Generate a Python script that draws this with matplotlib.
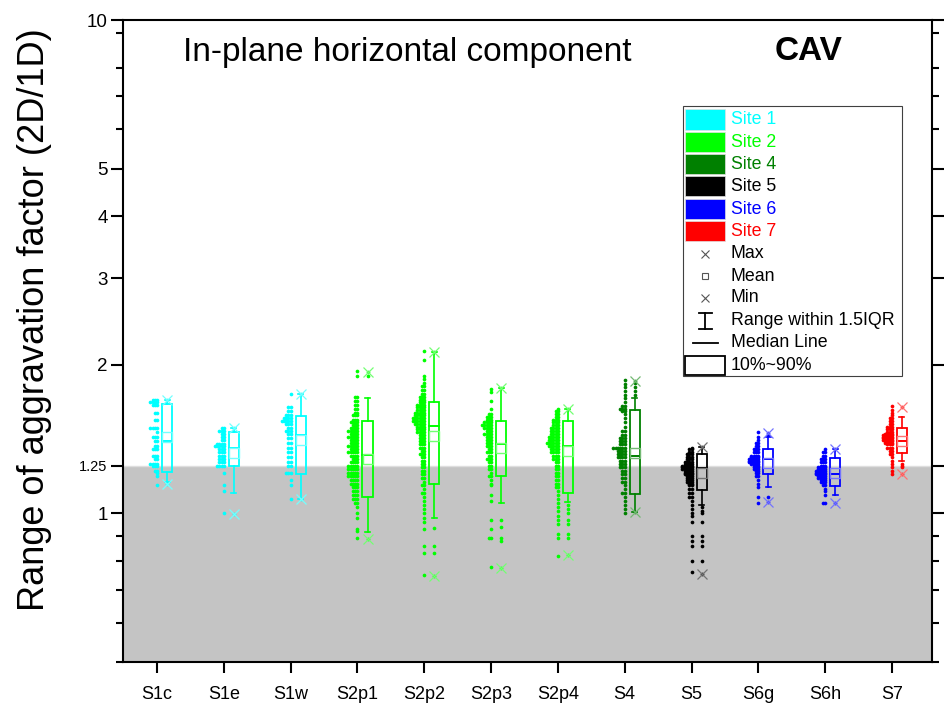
import matplotlib
matplotlib.use('Agg')
import matplotlib.pyplot as plt
from matplotlib.patches import Rectangle
from matplotlib.lines import Line2D
from matplotlib.ticker import FixedLocator, NullFormatter

plt.rcParams['font.family'] = ['Liberation Sans', 'DejaVu Sans']

# ---------------- data ----------------
categories = ['S1c', 'S1e', 'S1w', 'S2p1', 'S2p2', 'S2p3', 'S2p4', 'S4', 'S5', 'S6g', 'S6h', 'S7']
cat_site = [0, 0, 0, 1, 1, 1, 1, 2, 3, 4, 4, 5]
sites = ['Site 1', 'Site 2', 'Site 4', 'Site 5', 'Site 6', 'Site 7']
site_colors = ['#00FFFF', '#00FF00', '#008000', '#000000', '#0000FF', '#FF0000']

p90 = [1.665, 1.464, 1.577, 1.536, 1.686, 1.536, 1.540, 1.620, 1.320, 1.352, 1.295, 1.487]
p10 = [1.216, 1.247, 1.204, 1.080, 1.149, 1.191, 1.100, 1.097, 1.118, 1.200, 1.136, 1.327]
median = [1.404, 1.356, 1.444, 1.314, 1.505, 1.383, 1.372, 1.310, 1.236, 1.290, 1.204, 1.403]
mean = [1.427, 1.327, 1.411, 1.290, 1.433, 1.358, 1.341, 1.327, 1.210, 1.265, 1.210, 1.404]
whisk_hi = [1.698, 1.489, 1.750, 1.717, 2.120, 1.799, 1.627, 1.717, 1.362, 1.426, 1.352, 1.570]
whisk_lo = [1.160, 1.102, 1.069, 0.919, 0.977, 1.052, 1.055, 1.005, 1.040, 1.131, 1.092, 1.276]
max_val = [1.698, 1.489, 1.750, 1.936, 2.120, 1.799, 1.627, 1.855, 1.362, 1.455, 1.352, 1.640]
min_val = [1.145, 0.997, 1.069, 0.888, 0.746, 0.777, 0.824, 1.005, 0.754, 1.055, 1.052, 1.200]

out_S1c = [1.698, 1.145]
out_S1e = [1.489, 0.997]
out_S1w = [1.750, 1.069]
out_S2p1 = [1.936, 1.898, 0.888]
out_S2p2 = [2.120, 0.936, 0.860, 0.830, 0.746]
out_S2p3 = [1.799, 0.970, 0.937, 0.890, 0.880, 0.777]
out_S2p4 = [1.627, 1.040, 1.020, 1.000, 0.970, 0.950, 0.910, 0.890, 0.824]
out_S4 = [1.855, 1.840, 1.800, 1.770, 1.740, 1.005]
out_S5 = [1.362, 1.030, 1.010, 1.000, 0.960, 0.900, 0.880, 0.860, 0.800, 0.754]
out_S6g = [1.455, 1.440, 1.080, 1.055]
out_S6h = [1.352, 1.052]
out_S7 = [1.640, 1.260, 1.250, 1.240, 1.200]

# dot-histogram of the individual values: value rows and number of dots per row
S1c_vals = [1.70, 1.68, 1.66, 1.60, 1.55, 1.49, 1.46, 1.43, 1.40, 1.37, 1.35, 1.31, 1.29, 1.26, 1.25, 1.22, 1.21, 1.19, 1.14]
S1c_counts = [3, 4, 3, 2, 2, 4, 1, 3, 2, 2, 3, 3, 2, 4, 3, 2, 1, 1, 1]
S1e_vals = [1.49, 1.47, 1.45, 1.43, 1.41, 1.38, 1.37, 1.35, 1.33, 1.31, 1.29, 1.27, 1.25, 1.21, 1.14, 1.11, 1.00]
S1e_counts = [2, 3, 2, 2, 2, 4, 5, 3, 3, 3, 3, 3, 4, 1, 1, 1, 1]
S1w_vals = [1.75, 1.64, 1.61, 1.58, 1.56, 1.54, 1.52, 1.49, 1.47, 1.45, 1.42, 1.39, 1.36, 1.33, 1.30, 1.27, 1.25, 1.21, 1.17, 1.14, 1.07]
S1w_counts = [1, 2, 2, 3, 4, 5, 3, 2, 3, 2, 2, 2, 2, 2, 2, 2, 2, 3, 1, 1, 1]
S2p1_vals = [1.94, 1.90, 1.72, 1.69, 1.66, 1.63, 1.60, 1.58, 1.55, 1.53, 1.51, 1.49, 1.47, 1.45, 1.43, 1.41,
             1.39, 1.37, 1.35, 1.33, 1.31, 1.29, 1.27, 1.25, 1.23, 1.21, 1.19, 1.17, 1.15, 1.13, 1.11, 1.09,
             1.07, 1.05, 1.03, 1.00, 0.98, 0.93, 0.92, 0.89]
S2p1_counts = [1, 1, 2, 2, 2, 2, 2, 3, 3, 4, 3, 4, 5, 4, 5, 4,
               4, 5, 4, 5, 4, 3, 4, 5, 5, 5, 5, 4, 4, 3, 3, 3,
               3, 2, 1, 1, 1, 1, 1, 1]
S2p2_vals = [2.13, 2.05, 1.90, 1.87, 1.84, 1.81, 1.78, 1.75, 1.72, 1.70, 1.68, 1.66, 1.64, 1.62, 1.60, 1.58,
             1.56, 1.54, 1.52, 1.50, 1.48, 1.46, 1.44, 1.42, 1.40, 1.38, 1.36, 1.34, 1.32, 1.30, 1.28, 1.26,
             1.24, 1.22, 1.20, 1.18, 1.16, 1.14, 1.12, 1.10, 1.08, 1.06, 1.04, 1.02, 1.00, 0.98, 0.96, 0.93,
             0.86, 0.83, 0.75]
S2p2_counts = [1, 1, 1, 1, 1, 2, 2, 2, 3, 3, 3, 4, 4, 4, 5, 5,
               6, 6, 5, 4, 4, 4, 3, 3, 3, 3, 3, 2, 3, 2, 2, 2,
               2, 2, 2, 2, 1, 2, 1, 2, 1, 1, 1, 1, 1, 1, 1, 1,
               1, 1, 1]
S2p3_vals = [1.79, 1.76, 1.69, 1.63, 1.59, 1.57, 1.55, 1.53, 1.51, 1.49, 1.47, 1.45, 1.43, 1.41, 1.39, 1.37,
             1.35, 1.33, 1.31, 1.29, 1.27, 1.25, 1.23, 1.21, 1.19, 1.17, 1.15, 1.14, 1.09, 1.06, 0.97, 0.93,
             0.89, 0.78]
S2p3_counts = [1, 1, 1, 1, 2, 3, 3, 4, 5, 4, 3, 4, 3, 3, 3, 3,
               2, 3, 2, 3, 2, 2, 2, 1, 2, 1, 1, 1, 1, 1, 1, 1,
               2, 1]
S2p4_vals = [1.63, 1.61, 1.59, 1.57, 1.55, 1.53, 1.51, 1.49, 1.47, 1.45, 1.43, 1.41, 1.39, 1.37, 1.35, 1.33,
             1.31, 1.29, 1.27, 1.25, 1.23, 1.21, 1.19, 1.17, 1.15, 1.13, 1.11, 1.09, 1.07, 1.05, 1.03, 1.01,
             0.99, 0.97, 0.95, 0.91, 0.89, 0.82]
S2p4_counts = [1, 2, 2, 2, 3, 3, 3, 4, 4, 4, 5, 5, 6, 5, 4, 4,
               3, 3, 2, 2, 2, 2, 2, 2, 2, 2, 1, 1, 1, 1, 1, 1,
               1, 1, 1, 1, 1, 1]
S4_vals = [1.86, 1.83, 1.80, 1.77, 1.74, 1.71, 1.68, 1.65, 1.63, 1.61, 1.59, 1.56, 1.53, 1.50, 1.47, 1.44,
           1.42, 1.40, 1.38, 1.36, 1.34, 1.32, 1.30, 1.28, 1.26, 1.24, 1.22, 1.20, 1.18, 1.16, 1.14, 1.12,
           1.10, 1.08, 1.06, 1.04, 1.02, 1.00]
S4_counts = [1, 1, 1, 1, 1, 1, 1, 2, 3, 2, 1, 1, 1, 1, 2, 2,
             3, 3, 3, 6, 4, 4, 4, 3, 3, 3, 2, 2, 2, 2, 1, 1,
             2, 1, 1, 1, 1, 1]
S5_vals = [1.36, 1.35, 1.33, 1.32, 1.30, 1.29, 1.27, 1.26, 1.25, 1.24, 1.23, 1.22, 1.21, 1.20, 1.19, 1.18,
           1.17, 1.16, 1.15, 1.14, 1.12, 1.10, 1.08, 1.06, 1.04, 1.02, 1.00, 0.99, 0.96, 0.90, 0.88, 0.86,
           0.80, 0.76]
S5_counts = [1, 2, 2, 3, 3, 3, 4, 4, 5, 5, 5, 4, 4, 4, 3, 3,
             3, 3, 2, 2, 2, 2, 2, 1, 1, 1, 1, 1, 1, 1, 1, 1,
             1, 1]
S6g_vals = [1.46, 1.43, 1.41, 1.39, 1.37, 1.35, 1.33, 1.31, 1.30, 1.29, 1.28, 1.27, 1.26, 1.25, 1.24, 1.23,
            1.22, 1.21, 1.19, 1.17, 1.15, 1.13, 1.08, 1.05]
S6g_counts = [1, 1, 1, 2, 2, 3, 3, 4, 4, 5, 5, 5, 4, 3, 3, 3,
              2, 2, 2, 1, 1, 1, 1, 1]
S6h_vals = [1.35, 1.33, 1.31, 1.29, 1.27, 1.25, 1.24, 1.23, 1.22, 1.21, 1.20, 1.19, 1.18, 1.17, 1.16, 1.14,
            1.12, 1.11, 1.09, 1.05]
S6h_counts = [1, 2, 2, 3, 3, 3, 4, 4, 5, 5, 5, 4, 4, 3, 3, 2,
              1, 1, 1, 2]
S7_vals = [1.65, 1.62, 1.60, 1.58, 1.56, 1.54, 1.52, 1.50, 1.48, 1.46, 1.45, 1.44, 1.43, 1.42, 1.41, 1.40,
           1.39, 1.38, 1.36, 1.34, 1.32, 1.30, 1.28, 1.26, 1.24, 1.22, 1.20]
S7_counts = [1, 1, 1, 1, 2, 2, 2, 3, 3, 3, 4, 5, 5, 5, 5, 4,
             4, 3, 3, 2, 2, 1, 1, 1, 1, 1, 1]

y_ticks = [1, 1.25, 2, 3, 4, 5, 10]
y_ticklabels = ['1', '1.25', '2', '3', '4', '5', '10']
y_minor = [0.5, 0.6, 0.7, 0.8, 0.9, 6, 7, 8, 9.4]
threshold = 1.25

dist_vals = [S1c_vals, S1e_vals, S1w_vals, S2p1_vals, S2p2_vals, S2p3_vals, S2p4_vals, S4_vals, S5_vals,
             S6g_vals, S6h_vals, S7_vals]
dist_counts = [S1c_counts, S1e_counts, S1w_counts, S2p1_counts, S2p2_counts, S2p3_counts, S2p4_counts,
               S4_counts, S5_counts, S6g_counts, S6h_counts, S7_counts]
outliers = [out_S1c, out_S1e, out_S1w, out_S2p1, out_S2p2, out_S2p3, out_S2p4, out_S4, out_S5, out_S6g,
            out_S6h, out_S7]

# ---------------- figure ----------------
W, H = 944, 709
fig = plt.figure(figsize=(W / 100, H / 100), dpi=100)
ax = fig.add_axes([123 / W, 1 - 662 / H, (932 - 123) / W, (662 - 20) / H])
ax.set_yscale('log')
ax.set_ylim(0.5, 10)
ax.set_xlim(-0.51, 11.60)

ax.axhspan(0.5, threshold, color='#c4c4c4', zorder=0, lw=0)
ax.axhline(threshold, color='#dedede', lw=1.0, zorder=0.5)

box_off = 0.15
box_w = 0.15
cap_w = 0.075
dot_dx = 0.034

def lighter(c, f=0.5):
    import matplotlib.colors as mc
    r, g, b = mc.to_rgb(c)
    return (r + (1 - r) * f, g + (1 - g) * f, b + (1 - b) * f)

for i in range(len(categories)):
    c = site_colors[cat_site[i]]
    lc = lighter(c, 0.45)
    # dot distribution
    xs, ys = [], []
    for v, n in zip(dist_vals[i], dist_counts[i]):
        for k in range(n):
            xs.append(i - k * dot_dx)
            ys.append(v)
    ax.scatter(xs, ys, s=7, color=c, linewidths=0, zorder=3)
    bx = i + box_off
    # box 10-90 %
    ax.add_patch(Rectangle((bx - box_w / 2, p10[i]), box_w, p90[i] - p10[i], fill=False,
                           edgecolor=c, lw=1.3, zorder=4))
    # whiskers
    ax.plot([bx, bx], [p90[i], whisk_hi[i]], color=c, lw=1.2, zorder=4)
    ax.plot([bx, bx], [p10[i], whisk_lo[i]], color=c, lw=1.2, zorder=4)
    ax.plot([bx - cap_w / 2, bx + cap_w / 2], [whisk_hi[i]] * 2, color=c, lw=1.2, zorder=4)
    ax.plot([bx - cap_w / 2, bx + cap_w / 2], [whisk_lo[i]] * 2, color=c, lw=1.2, zorder=4)
    # median
    ax.plot([bx - box_w / 2, bx + box_w / 2], [median[i]] * 2, color=c, lw=1.4, zorder=5)
    # mean
    ax.plot([bx], [mean[i]], marker='s', ms=6.5, mfc='none', mec=lc, mew=1.0, zorder=5)
    # outliers
    ax.scatter([bx] * len(outliers[i]), outliers[i], s=7, color=c, linewidths=0, zorder=5)
    # max / min
    ax.plot([bx, bx], [max_val[i], min_val[i]], ls='none', marker='x', ms=7.5, mec=lc, mew=0.9, zorder=6)

# axes styling
for s in ax.spines.values():
    s.set_linewidth(1.5)
ax.yaxis.set_major_locator(FixedLocator(y_ticks))
ax.set_yticklabels(y_ticklabels)
ax.yaxis.set_minor_locator(FixedLocator(y_minor))
ax.yaxis.set_minor_formatter(NullFormatter())
ax.tick_params(axis='y', which='major', length=9, width=1.5, labelsize=13.5, pad=2, direction='out',
               left=True, right=True)
ax.tick_params(axis='y', which='minor', length=5, width=1.5, direction='out', left=True, right=True)
for lab in ax.get_yticklabels():
    if lab.get_text() == '1.25':
        lab.set_fontsize(10.5)
ax.set_xticks(range(len(categories)))
ax.set_xticklabels(categories)
ax.tick_params(axis='x', which='major', length=8, width=1.5, labelsize=13, pad=9, direction='out',
               top=False, bottom=True)
ax.tick_params(axis='x', which='minor', bottom=False, top=False)

fig.text(35 / W, 1 - 320 / H, 'Range of aggravation factor (2D/1D)', rotation=90, fontsize=26,
         ha='center', va='center')
ax.text((183 - 123) / 809, (662 - 52) / 642, 'In-plane horizontal component', transform=ax.transAxes,
        fontsize=24, ha='left', va='center')
ax.text((775 - 123) / 809, (662 - 52) / 642, 'CAV', transform=ax.transAxes, fontsize=24,
        fontweight='bold', ha='left', va='center')

# ---------------- legend (hand-built) ----------------
def fx(p):
    return p / W

def fy(p):
    return 1 - p / H

tf = fig.transFigure
fig.patches.append(Rectangle((fx(682.5), fy(376.5)), fx(901.5) - fx(682.5), fy(106) - fy(376.5),
                             transform=tf, fill=True, facecolor='white', edgecolor='#404040', lw=0.8,
                             zorder=10))
for k, (name, col) in enumerate(zip(sites, site_colors)):
    top = 109.5 + 22.3 * k
    fig.patches.append(Rectangle((fx(685), fy(top + 20)), fx(725) - fx(685), fy(top) - fy(top + 20),
                                 transform=tf, facecolor=col, edgecolor='#e0e0e0', lw=0.5, zorder=11))
    fig.text(fx(731), fy(top + 10.5), name, color=col, fontsize=12.8, ha='left', va='center', zorder=12)

gray = '#555555'
rows = [('Max', 254), ('Mean', 276), ('Min', 298), ('Range within 1.5IQR', 320.5),
        ('Median Line', 342.5), ('10%~90%', 365.5)]
for name, yc in rows:
    fig.text(fx(731), fy(yc), name, color='black', fontsize=12.8, ha='left', va='center', zorder=12)
fig.lines.append(Line2D([fx(705)], [fy(254)], marker='x', ms=6, mec=gray, mew=0.8, transform=tf, zorder=12))
fig.lines.append(Line2D([fx(705)], [fy(276)], marker='s', ms=5, mfc='white', mec=gray, mew=0.8,
                        transform=tf, zorder=12))
fig.lines.append(Line2D([fx(705)], [fy(298)], marker='x', ms=6, mec=gray, mew=0.8, transform=tf, zorder=12))
fig.lines.append(Line2D([fx(705), fx(705)], [fy(313), fy(329)], color='black', lw=1.3, transform=tf, zorder=12))
fig.lines.append(Line2D([fx(699), fx(712)], [fy(313), fy(313)], color='black', lw=1.3, transform=tf, zorder=12))
fig.lines.append(Line2D([fx(699), fx(712)], [fy(329), fy(329)], color='black', lw=1.3, transform=tf, zorder=12))
fig.lines.append(Line2D([fx(693), fx(718)], [fy(342.5), fy(342.5)], color='black', lw=1.3, transform=tf,
                        zorder=12))
fig.patches.append(Rectangle((fx(685), fy(375.5)), fx(725) - fx(685), fy(355.5) - fy(375.5), transform=tf,
                             fill=False, edgecolor='black', lw=1.3, zorder=12))

fig.savefig('out.png', dpi=100)
